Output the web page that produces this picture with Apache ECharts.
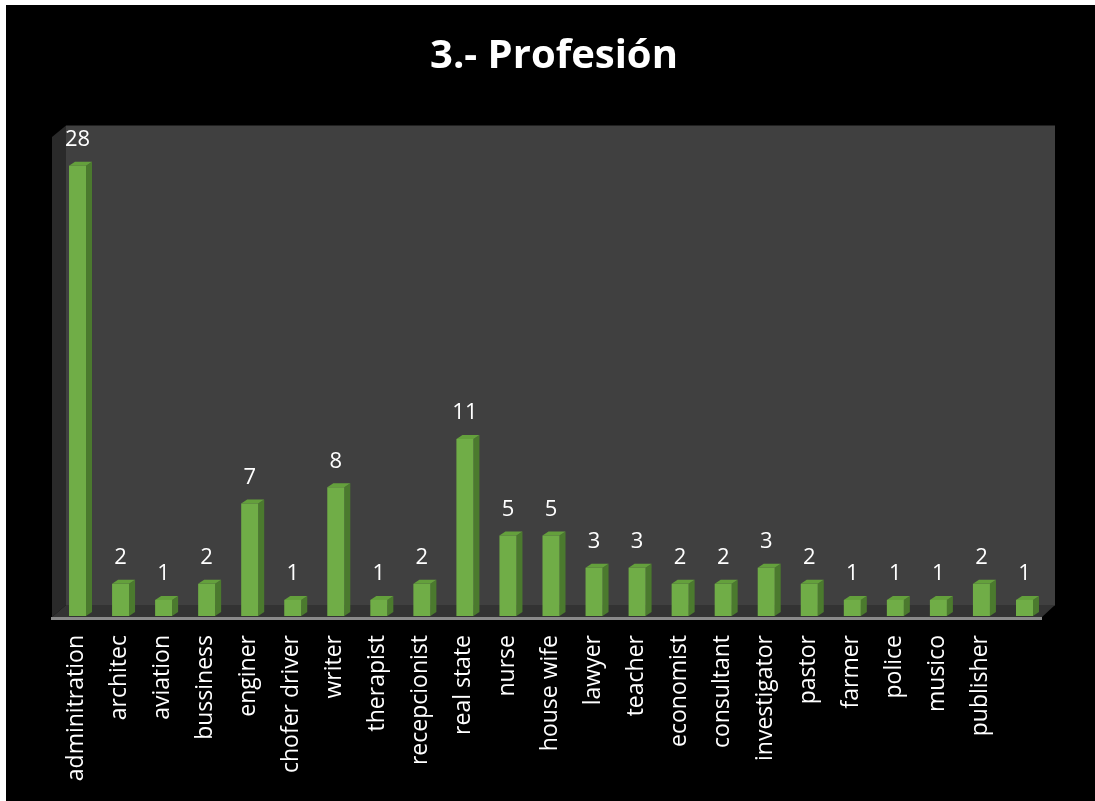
<!DOCTYPE html>
<html>
<head>
<meta charset="utf-8">
<script src="https://cdn.jsdelivr.net/npm/echarts@6/dist/echarts.min.js"></script>
<style>
html,body{margin:0;padding:0;background:#000;}
#chart{width:1095px;height:801px;}
</style>
</head>
<body>
<div id="chart"></div>
<script>
var categories = ['adminitration','architec','aviation','bussiness','enginer','chofer driver','writer','therapist','recepcionist','real state','nurse','house wife','lawyer','teacher','economist','consultant','investigator','pastor','farmer','police','musico','publisher',''];
var values = [28,2,1,2,7,1,8,1,2,11,5,5,3,3,2,2,3,2,1,1,1,2,1];
var titleText = '3.- Profesión';

var FONT = '"Open Sans", "Noto Sans", sans-serif';
var chart = echarts.init(document.getElementById('chart'), null, {renderer:'canvas'});

var DX = 6, DY = 4, FW = 17, FOFF = -7.5;

function renderBar(params, api){
  var cx = api.coord([api.value(0), 0])[0];
  var base = api.coord([api.value(0), 0])[1];
  var top = api.coord([api.value(0), api.value(1)])[1];
  var fl = cx + FOFF, fr = fl + FW;
  return {
    type:'group',
    children:[
      {type:'polygon', shape:{points:[[fr,top],[fr+DX,top-DY],[fr+DX,base-DY],[fr,base]]}, style:{fill:'#4b7a2e'}},
      {type:'polygon', shape:{points:[[fl,top],[fl+DX,top-DY],[fr+DX,top-DY],[fr,top]]}, style:{fill:'#64a03c'}},
      {type:'rect', shape:{x:fl, y:top, width:FW, height:base-top}, style:{fill:'#70ad47'}},
      {type:'text', x:(fl+fr)/2, y:top-15, style:{text:String(api.value(1)), fill:'#fff', font:'22px ' + FONT, align:'center', verticalAlign:'bottom'}}
    ]
  };
}

var option = {
  backgroundColor:'#000',
  animation:false,
  graphic:[
    {type:'rect', z:-10, shape:{x:66,y:125.5,width:989,height:480}, style:{fill:'#404040'}},
    {type:'polygon', z:-10, shape:{points:[[52,137],[66,125.5],[66,605],[52,617]]}, style:{fill:'#2a2a2a'}},
    {type:'polygon', z:-10, shape:{points:[[52,617],[66,605],[1055,605],[1042,617]]}, style:{fill:'#333333'}},
    {type:'line', z:-9, shape:{x1:51,y1:618.5,x2:1042,y2:618.5}, style:{stroke:'#8a8a8a', lineWidth:3}},
    {type:'rect', z:100, shape:{x:0,y:0,width:1095,height:5}, style:{fill:'#fff'}},
    {type:'rect', z:100, shape:{x:0,y:0,width:6,height:801}, style:{fill:'#fff'}},
    {type:'text', z:100, x:554, y:57, style:{text:titleText, fill:'#fff', font:'bold 40px ' + FONT, align:'center', verticalAlign:'middle'}}
  ],
  grid:{left:55, right:50, top:133.6, bottom:185, containLabel:false},
  xAxis:{
    type:'category', data:categories,
    axisLine:{show:false}, axisTick:{show:false}, splitLine:{show:false},
    axisLabel:{rotate:90, interval:0, margin:19, color:'#fff', fontSize:23, fontFamily:FONT}
  },
  yAxis:{type:'value', min:0, max:30, show:false, splitLine:{show:false}},
  series:[{
    type:'custom', renderItem:renderBar,
    data: values.map(function(v,i){return [i,v];}),
    encode:{x:0,y:1}
  }]
};
chart.setOption(option);
</script>
</body>
</html>
